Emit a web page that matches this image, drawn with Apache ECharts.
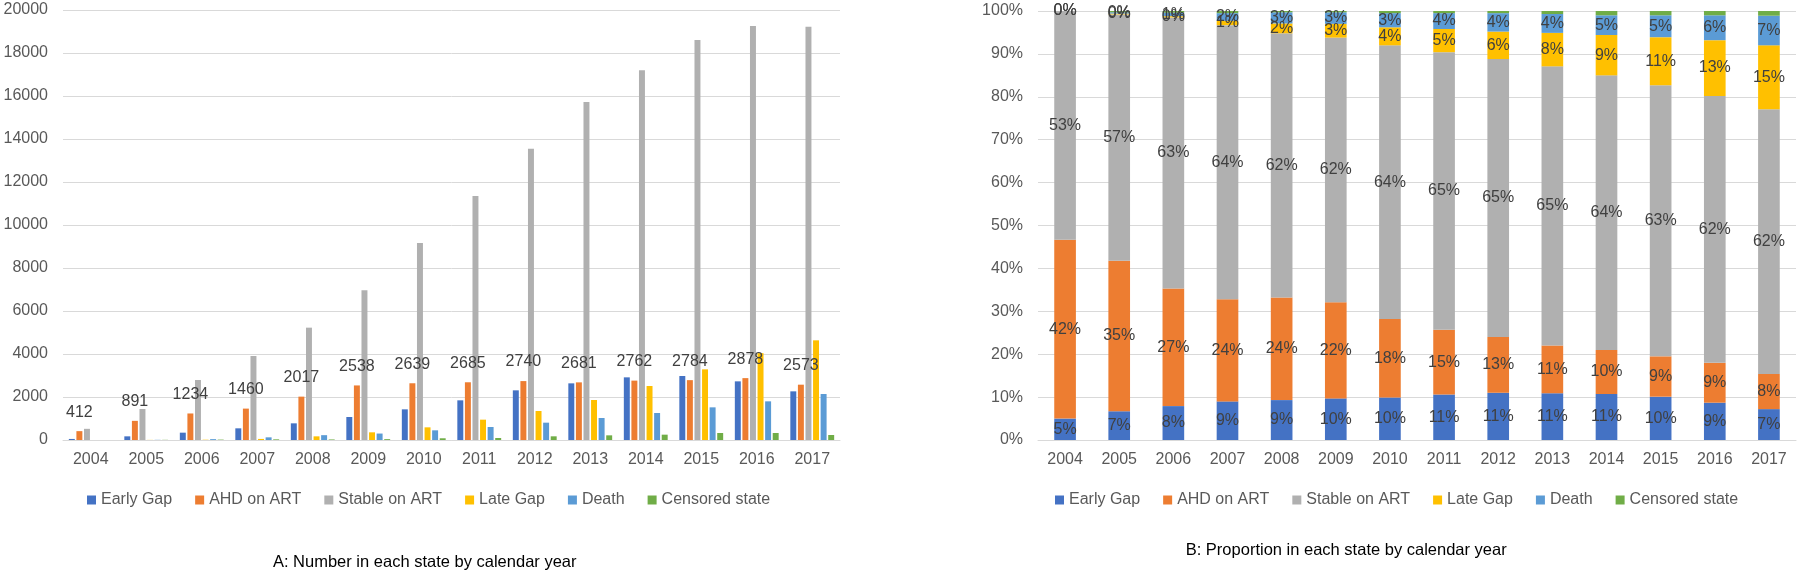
<!DOCTYPE html>
<html>
<head>
<meta charset="utf-8">
<script src="https://cdn.jsdelivr.net/npm/echarts@6/dist/echarts.min.js"></script>
<style>html,body{margin:0;padding:0;background:#fff;}#c{width:1800px;height:575px;}</style>
</head>
<body>
<div id="c"></div>
<script>
// ---- Data ----
var years = ['2004','2005','2006','2007','2008','2009','2010','2011','2012','2013','2014','2015','2016','2017'];
var seriesNames = ['Early Gap','AHD on ART','Stable on ART','Late Gap','Death','Censored state'];

// Panel A: counts
var earlyGapN = [49, 170, 341, 543, 775, 1070, 1426, 1845, 2310, 2635, 2914, 2976, 2728, 2263];
var ahdN      = [412, 891, 1234, 1460, 2017, 2538, 2639, 2685, 2740, 2681, 2762, 2784, 2878, 2573];
var stableN   = [520, 1442, 2790, 3907, 5225, 6961, 9163, 11349, 13550, 15720, 17194, 18605, 19256, 19225];
var lateGapN  = [0, 5, 13, 50, 170, 357, 589, 946, 1349, 1860, 2511, 3286, 4040, 4636];
var deathN    = [0, 8, 40, 124, 225, 300, 450, 605, 806, 1023, 1256, 1519, 1798, 2139];
var censoredN = [0, 8, 18, 30, 25, 40, 80, 93, 171, 217, 248, 326, 326, 233];

// Panel B: proportions (%)
var earlyGapP = [5.0, 6.7, 7.9, 9.0, 9.3, 9.7, 9.9, 10.6, 11.0, 10.9, 10.7, 10.1, 8.7, 7.2];
var ahdP      = [41.7, 35.1, 27.4, 23.8, 23.9, 22.4, 18.3, 15.1, 13.0, 11.1, 10.3, 9.4, 9.3, 8.2];
var stableP   = [53.3, 57.4, 63.2, 63.9, 61.6, 61.7, 63.8, 64.7, 64.8, 65.1, 64.0, 63.2, 62.2, 61.7];
var lateGapP  = [0, 0.2, 0.3, 1.0, 2.3, 3.2, 4.2, 5.4, 6.4, 7.8, 9.4, 11.2, 13.0, 14.9];
var deathP    = [0, 0.3, 0.8, 1.8, 2.6, 2.7, 3.3, 3.7, 4.3, 4.4, 4.6, 5.1, 5.8, 6.9];
var censoredP = [0, 0.3, 0.4, 0.5, 0.3, 0.3, 0.5, 0.5, 0.5, 0.7, 1.0, 1.0, 1.0, 1.1];

var yTicksA = {min: 0, max: 20000, interval: 2000};
var yTicksB = {min: 0, max: 100, interval: 10};

// ---- Styles ----
var colors = ['#4472C4','#ED7D31','#B0B0B0','#FFC000','#5B9BD5','#70AD47'];
var FONT = 'Liberation Sans, Arial, sans-serif';
var gridColor = '#D9D9D9';
var labelColor = '#595959';

var countsAll = [earlyGapN, ahdN, stableN, lateGapN, deathN, censoredN];
var propsAll = [earlyGapP, ahdP, stableP, lateGapP, deathP, censoredP];

function xAxisCfg(gi) {
  return {
    type: 'category', gridIndex: gi, data: years,
    axisLine: {show: true, lineStyle: {color: gridColor, width: 1}},
    axisTick: {show: false},
    axisLabel: {color: labelColor, fontSize: 16, fontFamily: FONT, margin: 12}
  };
}
function yAxisCfg(gi, t, fmt) {
  return {
    type: 'value', gridIndex: gi, min: t.min, max: t.max, interval: t.interval,
    axisLine: {show: false}, axisTick: {show: false},
    splitLine: {lineStyle: {color: gridColor, width: 1}},
    axisLabel: {color: labelColor, fontSize: 16, fontFamily: FONT, margin: 15, formatter: fmt}
  };
}

var series = [];
seriesNames.forEach(function (name, i) {
  var s = {
    name: name, type: 'bar', xAxisIndex: 0, yAxisIndex: 0,
    data: countsAll[i], itemStyle: {color: colors[i]},
    barCategoryGap: '21%', barGap: '27%'
  };
  if (i === 1) {
    s.label = {show: true, position: 'top', distance: 11, color: '#404040', fontSize: 16, fontFamily: FONT};
  }
  series.push(s);
});
seriesNames.forEach(function (name, i) {
  var s = {
    name: name, type: 'bar', xAxisIndex: 1, yAxisIndex: 1, stack: 'p',
    data: propsAll[i], itemStyle: {color: colors[i]},
    barCategoryGap: '60%'
  };
  if (i !== 5) {
    s.label = {show: true, position: 'inside', color: '#404040', fontSize: 16, fontFamily: FONT,
      formatter: function (p) { return Math.round(p.value) + '%'; }};
  }
  series.push(s);
});

function legendCfg(left) {
  return {
    data: seriesNames, left: left, top: 492, padding: 0,
    icon: 'rect', itemWidth: 9, itemHeight: 9, itemGap: 23,
    textStyle: {color: labelColor, fontSize: 16, fontFamily: FONT}
  };
}

var option = {
  animation: false,
  backgroundColor: '#fff',
  color: colors,
  grid: [
    {left: 63, right: 960, top: 10, bottom: 135},
    {left: 1038, right: 4, top: 11, bottom: 135}
  ],
  xAxis: [xAxisCfg(0), xAxisCfg(1)],
  yAxis: [
    yAxisCfg(0, yTicksA, function (v) { return String(v); }),
    yAxisCfg(1, yTicksB, function (v) { return v + '%'; })
  ],
  legend: [legendCfg(87), legendCfg(1055)],
  graphic: [
    {type: 'text', x: 424.7, y: 562.7, style: {text: 'A: Number in each state by calendar year', fill: '#000', fontSize: 16.5, fontFamily: FONT, textAlign: 'center', textVerticalAlign: 'middle'}},
    {type: 'text', x: 1346.2, y: 550.7, style: {text: 'B: Proportion in each state by calendar year', fill: '#000', fontSize: 16.5, fontFamily: FONT, textAlign: 'center', textVerticalAlign: 'middle'}}
  ],
  series: series
};

var chart = echarts.init(document.getElementById('c'), null, {renderer: 'canvas'});
chart.setOption(option);
</script>
</body>
</html>
